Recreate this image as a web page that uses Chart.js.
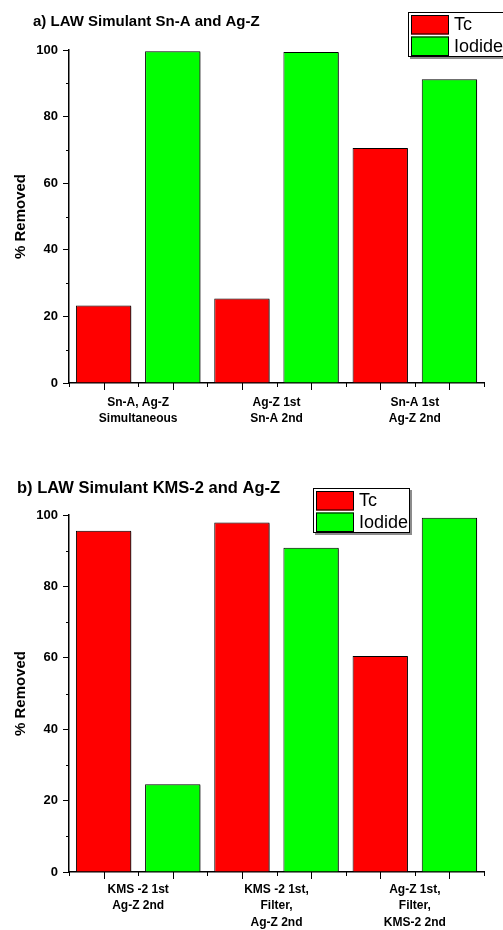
<!DOCTYPE html>
<html>
<head>
<meta charset="utf-8">
<script src="https://cdn.jsdelivr.net/npm/chart.js@4.4.0/dist/chart.umd.min.js"></script>
<style>
  html, body { margin: 0; padding: 0; background: #fff; }
  canvas { display: block; }
</style>
</head>
<body>
<canvas id="chartA" width="503" height="465"></canvas>
<canvas id="chartB" width="503" height="465"></canvas>
<script>
// Дані
const seriesNames = ["Tc", "Iodide"];
const seriesColors = ["#ff0000", "#00ff00"];

const titleA = "a) LAW Simulant Sn-A and Ag-Z";
const categoriesA = [["Sn-A, Ag-Z", "Simultaneous"], ["Ag-Z 1st", "Sn-A 2nd"], ["Sn-A 1st", "Ag-Z 2nd"]];
const tcA = [23.3, 25.4, 70.6];
const iodideA = [99.6, 99.4, 91.2];

const titleB = "b) LAW Simulant KMS-2 and Ag-Z";
const categoriesB = [["KMS -2 1st", "Ag-Z 2nd"], ["KMS -2 1st,", "Filter,", "Ag-Z 2nd"], ["Ag-Z 1st,", "Filter,", "KMS-2 2nd"]];
const tcB = [95.6, 97.9, 60.5];
const iodideB = [24.6, 90.8, 99.2];

const yTitle = "% Removed";
const yMin = 0, yMax = 100, yStep = 20;
const yMinorTicks = [10, 30, 50, 70, 90];

const FONT = "'Liberation Sans', Arial, sans-serif";

// Тіні під стовпчиками, заголовок, легенда і дрібні поділки
const decorPlugin = {
    id: "decor",
    beforeDatasetsDraw(chart) {
        const ctx = chart.ctx;
        ctx.save();
        ctx.shadowColor = "rgba(0,0,0,0.5)";
        ctx.shadowOffsetX = 2;
        ctx.shadowOffsetY = 1;
    },
    afterDatasetsDraw(chart) {
        chart.ctx.restore();
    },
    afterDraw(chart, args, opts) {
        const ctx = chart.ctx;
        const ys = chart.scales.y;
        const xs = chart.scales.x;

        ctx.save();
        ctx.strokeStyle = "#000";
        ctx.lineWidth = 1;

        // дрібні поділки на осі Y
        yMinorTicks.forEach(v => {
            const y = Math.round(ys.getPixelForValue(v)) + 0.5;
            ctx.beginPath();
            ctx.moveTo(ys.right - 3, y);
            ctx.lineTo(ys.right, y);
            ctx.stroke();
        });

        // поділки на осі X: великі по центрах стовпчиків, малі між ними
        const n = chart.data.labels.length * 4;
        for (let i = 0; i <= n; i++) {
            const x = Math.round(xs.left + i * xs.width / n) + 0.5;
            const len = i % 2 ? 7 : 4;
            ctx.beginPath();
            ctx.moveTo(x, xs.top);
            ctx.lineTo(x, xs.top + len);
            ctx.stroke();
        }

        // заголовок
        ctx.fillStyle = "#000";
        ctx.font = "bold " + opts.titleSize + "px " + FONT;
        ctx.textBaseline = "alphabetic";
        ctx.textAlign = "left";
        ctx.fillText(opts.title, opts.titleX, opts.titleY);

        // легенда
        const lx = opts.legendX, ly = opts.legendY;
        ctx.save();
        ctx.shadowColor = "rgba(0,0,0,0.45)";
        ctx.shadowOffsetX = 2;
        ctx.shadowOffsetY = 2;
        ctx.fillStyle = "#fff";
        ctx.fillRect(lx, ly, 97, 45);
        ctx.restore();
        ctx.strokeRect(lx + 0.5, ly + 0.5, 96, 44);

        ctx.font = "18px " + FONT;
        ctx.textBaseline = "middle";
        chart.data.datasets.forEach((ds, i) => {
            const sy = ly + 3 + i * 21.5;
            ctx.fillStyle = ds.backgroundColor;
            ctx.fillRect(lx + 3, sy, 38, 19.5);
            ctx.strokeRect(lx + 3.5, sy + 0.5, 37, 18.5);
            ctx.fillStyle = "#000";
            ctx.fillText(ds.label, lx + 46, sy + 10.5);
        });
        ctx.restore();
    }
};

function makeChart(id, labels, tc, iodide, deco, axisHeight, labelPad) {
    const ctx = document.getElementById(id).getContext("2d");
    return new Chart(ctx, {
        type: "bar",
        data: {
            labels: labels,
            datasets: [
                { label: seriesNames[0], data: tc, backgroundColor: seriesColors[0] },
                { label: seriesNames[1], data: iodide, backgroundColor: seriesColors[1] }
            ]
        },
        options: {
            responsive: false,
            animation: false,
            devicePixelRatio: 1,
            layout: { padding: { left: 0, top: 50, right: 19, bottom: 0 } },
            datasets: {
                bar: {
                    borderColor: "#000",
                    borderWidth: 1,
                    categoryPercentage: 1.0,
                    barPercentage: 0.8
                }
            },
            scales: {
                x: {
                    grid: { display: true, drawOnChartArea: false, drawTicks: false },
                    border: { display: true, color: "#000", width: 1.5 },
                    ticks: {
                        color: "#000",
                        padding: labelPad,
                        maxRotation: 0,
                        autoSkip: false,
                        font: { family: FONT, size: 12, weight: "bold", lineHeight: "16.5px" }
                    },
                    afterFit: s => { s.height = axisHeight; }
                },
                y: {
                    min: yMin,
                    max: yMax,
                    grid: { drawOnChartArea: false, drawTicks: true, tickLength: 6, color: "#000" },
                    border: { display: true, color: "#000", width: 1.5 },
                    ticks: {
                        stepSize: yStep,
                        color: "#000",
                        padding: 5,
                        font: { family: FONT, size: 13, weight: "bold" }
                    },
                    title: {
                        display: true,
                        text: yTitle,
                        color: "#000",
                        padding: { top: 12, bottom: 0 },
                        font: { family: FONT, size: 15, weight: "bold" }
                    },
                    afterFit: s => { s.width = 69; }
                }
            },
            plugins: {
                legend: { display: false },
                tooltip: { enabled: false },
                decor: deco
            }
        },
        plugins: [decorPlugin]
    });
}

document.addEventListener("DOMContentLoaded", () => {
    makeChart("chartA", categoriesA, tcA, iodideA,
        { title: titleA, titleX: 33, titleY: 25.5, titleSize: 15, legendX: 408, legendY: 12 },
        82, 11);
    makeChart("chartB", categoriesB, tcB, iodideB,
        { title: titleB, titleX: 17, titleY: 27.5, titleSize: 16.5, legendX: 313, legendY: 23 },
        58, 9);
});
</script>
</body>
</html>
